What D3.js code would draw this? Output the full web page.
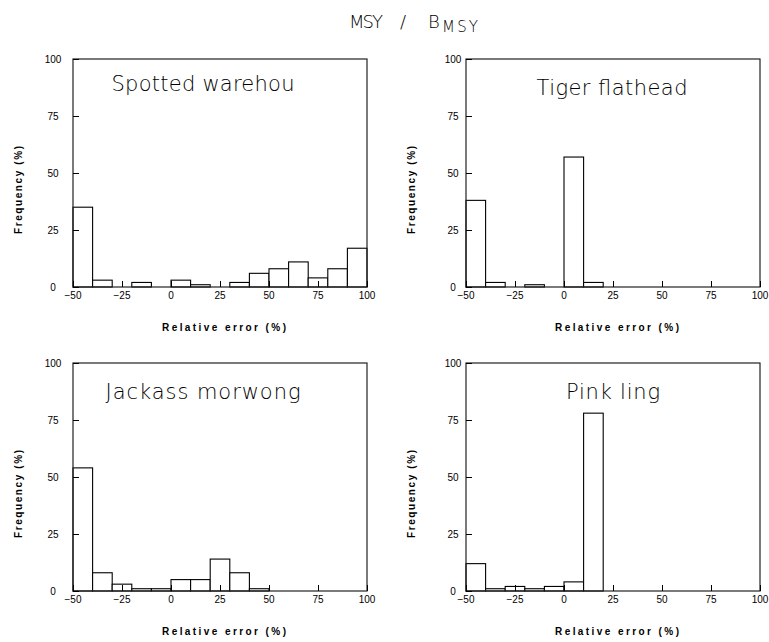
<!DOCTYPE html>
<html>
<head>
<meta charset="utf-8">
<script src="https://cdn.jsdelivr.net/npm/d3@7"></script>
<style>
  html, body { margin: 0; padding: 0; background: #fff; }
  svg { display: block; }
  text { font-family: "Liberation Sans", Arial, sans-serif; fill: #000; }
</style>
</head>
<body>
<svg id="chart" width="769" height="642"></svg>
<script>
// ---- data ----
const binEdges = [-50, -40, -30, -20, -10, 0, 10, 20, 30, 40, 50, 60, 70, 80, 90, 100];
const xTicks = [-50, -25, 0, 25, 50, 75, 100];
const yTicks = [0, 25, 50, 75, 100];
const xTickLabels = ["\u221250", "\u221225", "0", "25", "50", "75", "100"];
const yTickLabels = ["0", "25", "50", "75", "100"];
const speciesNames = ["Spotted warehou", "Tiger flathead", "Jackass morwong", "Pink ling"];
const spottedWarehou = [35, 3, 0, 2, 0, 3, 1, 0, 2, 6, 8, 11, 4, 8, 17];
const tigerFlathead  = [38, 2, 0, 1, 0, 57, 2, 0, 0, 0, 0, 0, 0, 0, 0];
const jackassMorwong = [54, 8, 3, 1, 1, 5, 5, 14, 8, 1, 0, 0, 0, 0, 0];
const pinkLing       = [12, 1, 2, 1, 2, 4, 78, 0, 0, 0, 0, 0, 0, 0, 0];
const seriesList = [spottedWarehou, tigerFlathead, jackassMorwong, pinkLing];
const xLabel = "Relative error (%)";
const yLabel = "Frequency (%)";

// ---- layout ----
const svg = d3.select("#chart");
const panelW = 294, panelH = 228;
const panels = [
  { left: 73,  top: 59,  titleX: 203, titleY: 91,  titleW: 183, ytlOff: -20 },
  { left: 466, top: 59,  titleX: 612, titleY: 95,  titleW: 151, ytlOff: -13 },
  { left: 73,  top: 363, titleX: 203, titleY: 399, titleW: 195, ytlOff: -20 },
  { left: 466, top: 363, titleX: 613, titleY: 399, titleW: 94,  ytlOff: -13 }
];

// main title
const mt = svg.append("text")
  .attr("y", 28)
  .style("font-size", "18px")
  .style("font-family", "'DejaVu Sans', sans-serif")
  .style("font-weight", 200);
mt.append("tspan").attr("x", 349).attr("textLength", 34).attr("lengthAdjust", "spacing").text("MSY");
mt.append("tspan").attr("x", 400).text("/");
mt.append("tspan").attr("x", 428).text("B");
mt.append("tspan").attr("x", 442).attr("y", 32).style("font-size", "15px")
  .attr("textLength", 36).attr("lengthAdjust", "spacing").text("MSY");

panels.forEach((p, i) => {
  const data = seriesList[i];
  const x = d3.scaleLinear().domain([-50, 100]).range([0, panelW]);
  const y = d3.scaleLinear().domain([0, 100]).range([panelH, 0]);
  const g = svg.append("g").attr("transform", `translate(${p.left},${p.top})`);

  // bars
  g.selectAll("rect.bar").data(data).enter().append("rect")
    .attr("class", "bar")
    .attr("x", (d, k) => x(binEdges[k]))
    .attr("width", (d, k) => x(binEdges[k + 1]) - x(binEdges[k]))
    .attr("y", d => y(d))
    .attr("height", d => panelH - y(d))
    .attr("fill", "#fff")
    .attr("stroke", "#000")
    .attr("stroke-width", 1.1);

  // frame
  g.append("rect")
    .attr("x", 0).attr("y", 0).attr("width", panelW).attr("height", panelH)
    .attr("fill", "none").attr("stroke", "#222").attr("stroke-width", 1.2);

  // x axis (ticks inward)
  const xAxis = d3.axisTop(x).tickValues(xTicks).tickSize(6).tickFormat(() => "");
  const xa = g.append("g").attr("transform", `translate(0,${panelH})`).call(xAxis);
  xa.select(".domain").remove();
  xa.selectAll(".tick line").attr("stroke", "#000");
  g.selectAll("text.xtl").data(xTicks).enter().append("text")
    .attr("class", "xtl")
    .attr("x", d => x(d)).attr("y", panelH + 12)
    .attr("text-anchor", "middle")
    .style("font-size", "10px")
    .text((d, k) => xTickLabels[k]);

  // y axis (ticks inward)
  const yAxis = d3.axisRight(y).tickValues(yTicks).tickSize(6).tickFormat(() => "");
  const ya = g.append("g").call(yAxis);
  ya.select(".domain").remove();
  ya.selectAll(".tick line").attr("stroke", "#000");
  g.selectAll("text.ytl").data(yTicks).enter().append("text")
    .attr("class", "ytl")
    .attr("x", p.ytlOff).attr("y", d => y(d) + 3.5)
    .attr("text-anchor", "middle")
    .style("font-size", "10px")
    .text((d, k) => yTickLabels[k]);

  // panel title
  svg.append("text")
    .attr("x", p.titleX).attr("y", p.titleY)
    .attr("text-anchor", "middle")
    .attr("textLength", p.titleW).attr("lengthAdjust", "spacing")
    .style("font-size", "21px")
    .style("font-family", "'DejaVu Sans', sans-serif")
    .style("font-weight", 200)
    .text(speciesNames[i]);

  // x label
  svg.append("text")
    .attr("x", p.left + panelW / 2 + 4).attr("y", p.top + panelH + 44)
    .attr("text-anchor", "middle")
    .attr("textLength", 124).attr("lengthAdjust", "spacing")
    .style("font-size", "10px").style("font-weight", "bold")
    .text(xLabel);

  // y label
  const yl = p.left - 51, yc = p.top + panelH / 2 + 17;
  svg.append("text")
    .attr("transform", `translate(${yl},${yc}) rotate(-90)`)
    .attr("text-anchor", "middle")
    .attr("textLength", 88).attr("lengthAdjust", "spacing")
    .style("font-size", "10px").style("font-weight", "bold")
    .text(yLabel);
});
</script>
</body>
</html>
